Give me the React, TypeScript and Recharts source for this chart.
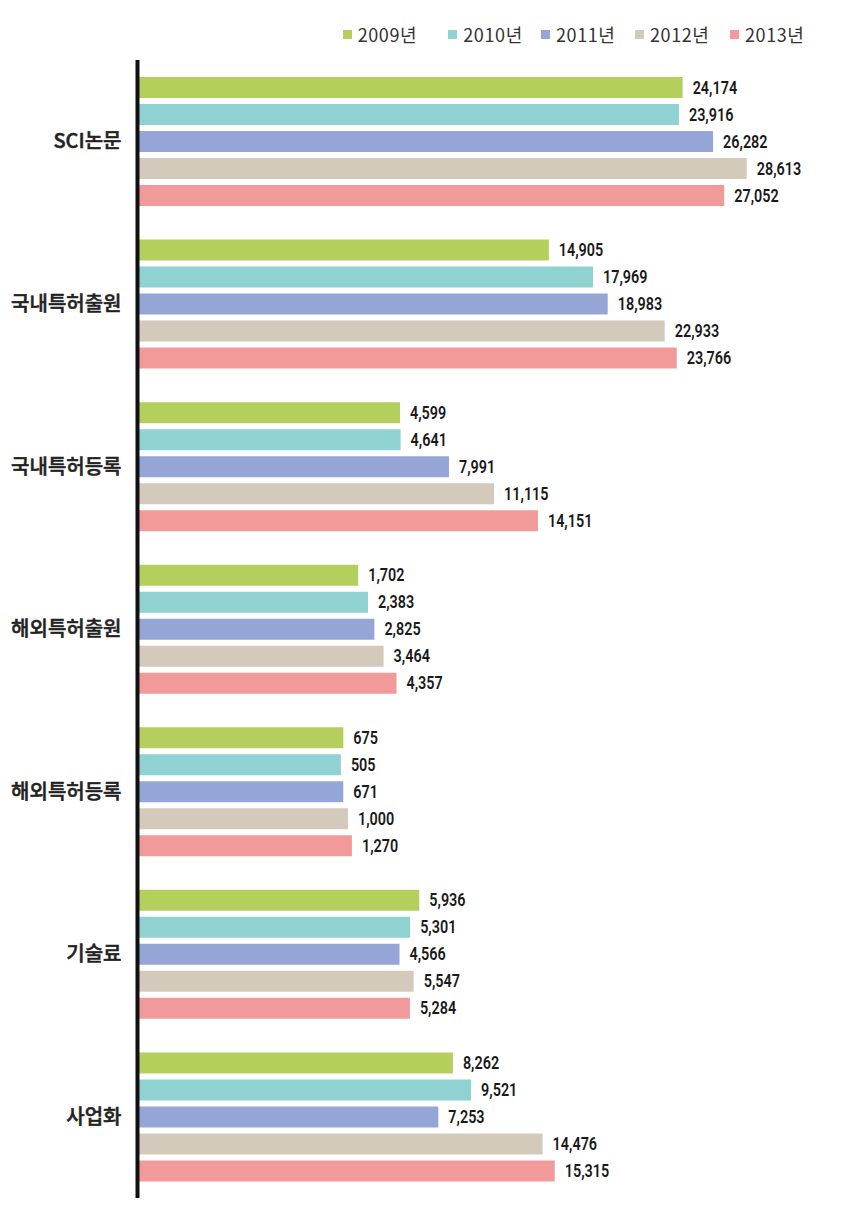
import { BarChart, Bar, XAxis, YAxis, Legend, LabelList } from 'recharts'

const categories = ['SCI논문', '국내특허출원', '국내특허등록', '해외특허출원', '해외특허등록', '기술료', '사업화']
const years = ['2009년', '2010년', '2011년', '2012년', '2013년']
const y2009 = [24174, 14905, 4599, 1702, 675, 5936, 8262]
const y2010 = [23916, 17969, 4641, 2383, 505, 5301, 9521]
const y2011 = [26282, 18983, 7991, 2825, 671, 4566, 7253]
const y2012 = [28613, 22933, 11115, 3464, 1000, 5547, 14476]
const y2013 = [27052, 23766, 14151, 4357, 1270, 5284, 15315]
const colors = ['#b5cf5d', '#90d2d2', '#95a6d6', '#d3cabc', '#f29a9a']

// the source bars don't start at zero: every bar carries the same stub length
const BASE = 13580

const series = [y2009, y2010, y2011, y2012, y2013]
const data = categories.map((name, i) => {
  const row: Record<string, string | number> = { name }
  series.forEach((s, j) => { row['s' + j] = s[i] })
  return row
})

const fmt = (v: any) => Number(v).toLocaleString('en-US')

const legendLeft = [0, 105.6, 198.3, 292.3, 387.3]

function LegendBox({ payload }: any) {
  return (
    <div style={{ position: 'relative', height: 20, fontFamily: '"Noto Sans CJK KR", sans-serif', fontSize: 18, color: '#333', letterSpacing: 0.6 }}>
      {(payload || []).map((p: any, i: number) => (
        <div key={i} style={{ position: 'absolute', left: legendLeft[i], top: 0, display: 'flex', alignItems: 'center', whiteSpace: 'nowrap' }}>
          <span style={{ width: 9, height: 9, background: p.color, display: 'inline-block', marginRight: 6 }} />
          <span style={{ lineHeight: '20px' }}>{p.value}</span>
        </div>
      ))}
    </div>
  )
}

// no narrow font installed, so squeeze Roboto horizontally
function ValueLabel(props: any) {
  const { x, y, width, height, value } = props
  const tx = Number(x) + Number(width) + 10
  const ty = Number(y) + Number(height) / 2
  return (
    <text
      transform={`translate(${tx},${ty}) scale(0.8,1)`}
      dominantBaseline="central"
      fontSize={18}
      fontWeight={600}
      fontFamily="Roboto, sans-serif"
      fill="#1a1a1a"
    >
      {fmt(value)}
    </text>
  )
}

export default function App() {
  return (
    <BarChart
      width={841}
      height={1195}
      data={data}
      layout="vertical"
      margin={{ top: 52, right: 18.4, bottom: 5, left: 0 }}
      barSize={21}
      barGap={6}
    >
      <XAxis type="number" hide domain={[0, 48000]} />
      <YAxis
        type="category"
        dataKey="name"
        width={129.5}
        axisLine={{ stroke: '#111', strokeWidth: 4 }}
        tickLine={false}
        tickMargin={10}
        tick={{ fontSize: 20, fontWeight: 500, fill: '#222', stroke: '#222', strokeWidth: 0.5, fontFamily: '"Noto Sans CJK KR", sans-serif' }}
      />
      <Legend
        layout="horizontal"
        verticalAlign="middle"
        wrapperStyle={{ top: 16, left: 334.7, width: 480 }}
        content={<LegendBox />}
      />
      {years.map((y, j) => (
        <Bar
          key={y}
          name={y}
          dataKey={(d: any) => d['s' + j] + BASE}
          fill={colors[j]}
          isAnimationActive={false}
        >
          <LabelList dataKey={'s' + j} content={<ValueLabel />} />
        </Bar>
      ))}
    </BarChart>
  )
}
